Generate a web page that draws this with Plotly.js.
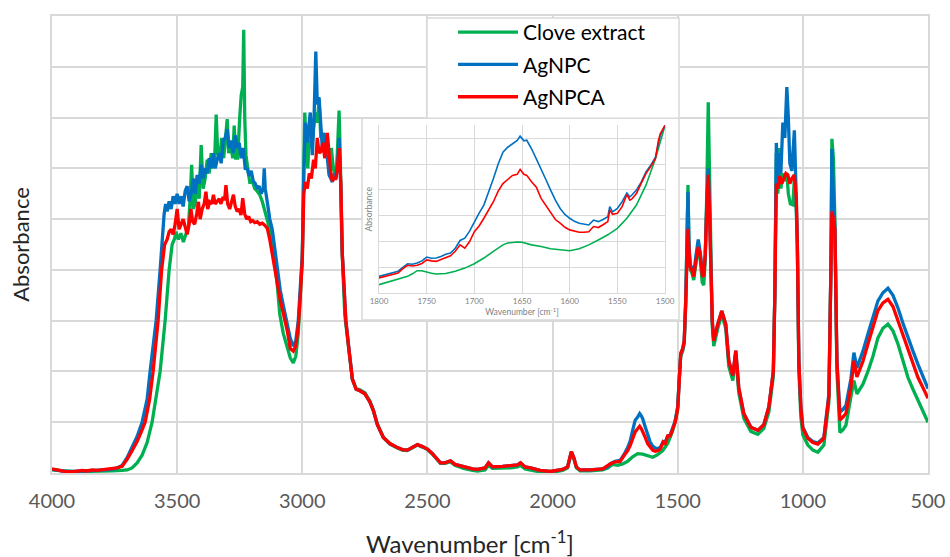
<!DOCTYPE html>
<html>
<head>
<meta charset="utf-8">
<script src="https://cdn.plot.ly/plotly-3.0.1.min.js"></script>
<style>html,body{margin:0;padding:0;background:#fff;}#chart{width:950px;height:557px;}</style>
</head>
<body>
<div id="chart"></div>
<script>
// ---------- series names ----------
const seriesNames = ['Clove extract', 'AgNPC', 'AgNPCA'];

// ---------- main spectrum: Clove extract ----------
const cloveWn = [4000,3960,3920,3880,3840,3800,3760,3720,3700,3680,3660,3640,3620,3600,3580,3568,3548,3532,3520,3510,3505,3495,3485,3475,3465,3455,3448,3442,3436,3428,3420,3412,3404,3396,3388,3380,3372,3364,3356,3350,3344,3338,3330,3322,3314,3306,3300,3294,3286,3278,3272,3266,3258,3250,3244,3238,3234,3230,3225,3218,3210,3200,3190,3180,3170,3160,3150,3140,3130,3120,3110,3100,3090,3076,3060,3048,3036,3026,3016,3008,3000,2994,2990,2984,2978,2970,2962,2955,2948,2940,2933,2926,2918,2910,2900,2890,2884,2876,2866,2860,2853,2848,2842,2830,2813,2800,2785,2770,2750,2730,2716,2700,2676,2650,2620,2600,2580,2560,2540,2520,2500,2480,2460,2448,2430,2408,2390,2356,2320,2300,2270,2256,2240,2200,2168,2140,2128,2110,2088,2050,2008,1960,1940,1925,1915,1905,1890,1850,1800,1780,1760,1740,1720,1700,1680,1660,1640,1620,1600,1580,1560,1540,1520,1510,1500,1494,1488,1480,1474,1468,1463,1459,1455,1450,1444,1436,1428,1418,1410,1402,1396,1390,1384,1378,1374,1368,1362,1356,1340,1324,1308,1296,1280,1268,1256,1236,1208,1180,1156,1136,1118,1112,1106,1100,1094,1088,1080,1072,1064,1058,1050,1040,1034,1028,1022,1016,1008,1000,980,960,940,916,896,888,884,878,872,864,852,840,828,808,796,784,760,740,720,700,680,660,640,620,600,580,560,540,520,500];
const cloveAbs = [0.06,0.04,0.03,0.03,0.03,0.04,0.04,0.05,0.06,0.1,0.2,0.35,0.6,1.0,1.6,2.0,3.0,4.0,4.5,4.62,4.75,4.6,4.72,4.55,4.7,4.85,5.4,6.07,5.2,5.3,5.75,5.4,6.46,5.6,5.8,6.17,5.9,6.3,6.0,6.2,7.06,6.3,6.2,6.6,6.2,6.6,6.97,6.3,6.5,6.2,6.84,6.2,6.2,7.0,7.44,7.6,8.73,7.0,6.26,6.0,5.73,5.75,5.6,5.55,5.48,5.35,5.15,5.0,4.8,4.5,4.17,3.7,3.13,2.75,2.45,2.27,2.17,2.3,2.75,3.4,4.2,6.0,7.1,6.3,6.0,6.9,6.4,6.8,7.1,6.9,7.35,6.6,6.7,6.26,6.3,6.0,6.4,6.0,5.8,6.3,7.14,6.2,4.5,3.1,2.4,1.85,1.66,1.64,1.58,1.42,1.24,0.96,0.7,0.57,0.49,0.45,0.44,0.49,0.55,0.51,0.46,0.37,0.25,0.19,0.19,0.22,0.15,0.09,0.05,0.04,0.06,0.15,0.09,0.09,0.1,0.12,0.15,0.08,0.06,0.02,0.01,0.05,0.1,0.4,0.28,0.1,0.04,0.04,0.06,0.1,0.17,0.15,0.18,0.23,0.32,0.38,0.37,0.34,0.31,0.36,0.44,0.58,0.83,1.04,1.3,1.85,2.3,2.4,2.55,3.3,4.5,5.67,4.4,4.0,3.95,3.8,4.1,4.45,4.2,3.75,3.7,4.2,5.5,7.3,6.2,4.1,2.9,2.5,2.85,3.12,2.85,2.1,1.82,2.3,1.58,1.08,0.82,0.76,0.88,1.2,1.9,3.5,6.3,5.5,6.4,5.6,5.9,5.75,5.9,5.5,5.3,5.28,5.8,5.4,4.5,2.0,1.1,0.75,0.55,0.45,0.41,0.55,1.4,4.0,6.58,6.2,5.0,2.0,0.8,0.85,0.94,1.5,1.82,1.56,1.75,2.0,2.3,2.66,2.85,2.93,2.8,2.54,2.2,1.88,1.65,1.43,1.2,1.0];

// ---------- main spectrum: AgNPC ----------
const agnpcWn = [4000,3950,3900,3850,3800,3760,3740,3720,3700,3680,3660,3640,3620,3608,3584,3568,3556,3552,3546,3540,3532,3524,3516,3508,3500,3492,3484,3476,3468,3460,3452,3444,3436,3428,3420,3412,3404,3396,3388,3380,3372,3364,3356,3348,3340,3332,3324,3316,3308,3300,3292,3284,3276,3268,3260,3252,3244,3236,3228,3220,3212,3204,3196,3188,3180,3172,3164,3156,3152,3148,3140,3130,3120,3110,3100,3088,3076,3060,3048,3036,3026,3016,3008,3000,2994,2988,2981,2975,2968,2960,2953,2946,2940,2933,2926,2920,2913,2906,2900,2893,2886,2880,2873,2866,2860,2853,2846,2840,2826,2813,2800,2785,2770,2750,2730,2716,2700,2676,2650,2620,2600,2580,2560,2540,2520,2500,2480,2460,2448,2430,2408,2390,2356,2320,2300,2270,2256,2240,2200,2168,2140,2128,2110,2088,2050,2008,1960,1940,1925,1915,1905,1890,1850,1800,1780,1770,1750,1730,1715,1700,1690,1680,1670,1660,1652,1645,1640,1630,1620,1610,1600,1590,1580,1570,1558,1550,1540,1530,1520,1510,1500,1494,1488,1480,1474,1468,1463,1459,1455,1450,1444,1436,1428,1418,1410,1402,1396,1390,1384,1378,1374,1368,1362,1356,1340,1324,1308,1296,1280,1268,1256,1236,1208,1180,1156,1136,1118,1112,1106,1100,1094,1088,1080,1072,1064,1058,1052,1044,1034,1028,1022,1016,1008,1000,980,960,940,916,896,888,884,878,872,864,852,840,828,808,796,784,760,740,720,700,680,660,640,620,600,580,560,540,520,500];
const agnpcAbs = [0.07,0.03,0.03,0.04,0.05,0.07,0.1,0.15,0.3,0.5,0.72,1.0,1.45,2.0,3.0,4.0,5.0,5.1,5.3,5.15,5.35,5.2,5.45,5.3,5.5,5.3,5.45,5.25,5.55,5.65,5.35,5.5,5.8,5.5,5.87,5.7,6.07,5.8,6.0,5.9,6.2,6.0,6.3,6.0,6.17,6.3,6.1,6.55,6.6,6.77,6.4,6.55,6.3,6.65,6.4,6.5,6.2,6.4,6.0,5.99,5.85,5.95,5.75,5.7,5.6,5.65,5.5,5.6,6.0,5.6,5.34,5.0,4.8,4.4,4.0,3.6,3.3,2.9,2.65,2.5,2.6,3.0,3.6,4.3,5.9,6.9,6.5,6.8,7.1,6.26,7.0,8.3,7.26,7.4,6.77,6.4,6.7,6.3,6.2,5.87,5.8,5.73,5.9,5.8,6.0,6.6,5.6,4.3,3.0,2.4,1.85,1.65,1.62,1.56,1.4,1.23,0.95,0.7,0.58,0.5,0.46,0.45,0.5,0.56,0.52,0.47,0.38,0.26,0.2,0.2,0.24,0.17,0.12,0.08,0.07,0.1,0.2,0.12,0.13,0.14,0.16,0.2,0.12,0.1,0.05,0.03,0.07,0.12,0.42,0.3,0.12,0.06,0.06,0.08,0.12,0.18,0.23,0.25,0.36,0.5,0.63,0.84,1.04,1.1,1.17,1.12,1.07,0.91,0.75,0.61,0.53,0.49,0.48,0.5,0.62,0.61,0.73,0.75,0.89,1.02,1.3,1.9,2.35,2.45,2.6,3.4,4.5,5.54,4.5,4.1,4.05,3.91,4.25,4.6,4.35,3.95,3.9,4.3,5.3,6.0,5.4,4.17,3.0,2.6,2.93,3.19,2.93,2.21,1.92,2.41,1.68,1.17,0.9,0.84,0.95,1.3,2.0,3.5,6.5,5.8,6.3,5.9,6.9,6.6,7.6,7.0,6.1,5.95,6.75,5.7,4.5,2.2,1.3,0.9,0.7,0.62,0.59,0.7,1.56,4.0,6.38,5.5,4.81,2.2,1.2,1.25,1.33,1.85,2.37,2.07,2.4,2.74,3.05,3.39,3.55,3.64,3.5,3.25,2.95,2.66,2.4,2.14,1.9,1.66];

// ---------- main spectrum: AgNPCA ----------
const agnpcaWn = [4000,3980,3950,3920,3900,3880,3860,3840,3820,3800,3780,3760,3740,3720,3700,3680,3660,3640,3628,3610,3596,3576,3562,3550,3540,3532,3524,3516,3508,3500,3492,3484,3476,3468,3460,3452,3445,3438,3430,3422,3415,3408,3400,3392,3385,3378,3370,3362,3355,3348,3340,3332,3325,3318,3310,3305,3298,3290,3282,3275,3268,3260,3252,3245,3238,3230,3222,3214,3206,3198,3190,3180,3170,3160,3150,3140,3130,3115,3100,3088,3076,3060,3048,3036,3026,3016,3008,3000,2994,2988,2980,2972,2964,2955,2948,2940,2933,2926,2918,2910,2900,2893,2886,2880,2873,2866,2860,2853,2846,2840,2826,2813,2800,2785,2770,2750,2730,2716,2700,2676,2650,2620,2600,2580,2560,2540,2520,2500,2480,2460,2448,2430,2408,2390,2356,2320,2300,2270,2256,2240,2200,2168,2140,2128,2110,2088,2050,2008,1960,1940,1925,1915,1905,1890,1850,1800,1770,1750,1730,1715,1700,1690,1680,1670,1660,1652,1645,1640,1630,1620,1610,1600,1590,1580,1570,1558,1550,1540,1530,1520,1510,1500,1494,1488,1480,1474,1468,1463,1459,1455,1450,1444,1436,1428,1418,1410,1402,1396,1390,1384,1378,1374,1368,1362,1356,1340,1324,1308,1296,1280,1268,1256,1236,1208,1180,1156,1136,1118,1112,1106,1100,1092,1084,1076,1068,1060,1052,1044,1034,1026,1022,1016,1008,1000,980,960,940,916,896,888,884,878,872,864,852,840,828,808,796,784,760,740,720,700,680,660,640,620,600,580,560,540,520,500];
const agnpcaAbs = [0.08,0.06,0.03,0.02,0.03,0.05,0.04,0.06,0.05,0.06,0.07,0.08,0.1,0.13,0.27,0.44,0.62,0.85,1.0,1.45,2.0,3.0,4.0,4.5,4.6,4.75,4.8,4.7,4.9,5.2,4.8,4.9,5.0,4.85,4.7,4.9,5.2,4.95,4.9,5.1,5.34,5.0,5.2,5.3,5.54,5.2,5.34,5.3,5.48,5.3,5.34,5.4,5.3,5.41,5.4,5.67,5.3,5.2,5.35,5.48,5.25,5.15,5.2,5.08,5.41,5.1,5.0,5.05,4.95,4.97,4.93,4.95,4.9,4.92,4.88,4.82,4.6,4.17,3.7,3.4,3.15,2.8,2.45,2.4,2.5,2.9,3.5,4.2,5.5,5.73,5.6,5.9,5.8,6.17,6.0,6.6,6.3,6.33,6.5,6.2,6.7,6.26,5.9,5.75,5.8,5.8,6.0,6.4,5.7,4.3,3.0,2.4,1.85,1.65,1.62,1.56,1.4,1.23,0.95,0.7,0.58,0.5,0.46,0.45,0.5,0.56,0.52,0.47,0.38,0.26,0.2,0.2,0.24,0.17,0.12,0.08,0.07,0.1,0.2,0.12,0.13,0.14,0.16,0.2,0.12,0.1,0.05,0.03,0.07,0.12,0.42,0.3,0.12,0.06,0.06,0.08,0.18,0.22,0.23,0.34,0.44,0.54,0.67,0.81,0.87,0.92,0.87,0.82,0.7,0.58,0.5,0.45,0.43,0.44,0.47,0.61,0.58,0.73,0.73,0.89,1.0,1.26,1.9,2.35,2.45,2.6,3.4,4.3,4.81,4.4,4.05,4.0,3.87,4.15,4.45,4.3,3.9,3.87,4.3,5.2,5.87,5.3,4.17,3.0,2.6,2.93,3.19,2.93,2.21,1.92,2.41,1.68,1.17,0.9,0.84,0.95,1.3,2.0,3.5,5.7,5.6,5.85,5.7,5.8,5.9,5.87,5.7,5.8,5.87,5.4,4.5,2.2,1.28,0.88,0.68,0.6,0.57,0.68,1.5,4.0,5.15,5.0,4.81,2.2,1.04,1.1,1.17,1.69,2.21,1.89,2.2,2.54,2.87,3.2,3.35,3.42,3.28,3.0,2.7,2.41,2.15,1.88,1.68,1.47];

// ---------- inset (1800-1500 cm-1) ----------
const insetCloveWn = [1800,1790,1780,1770,1765,1760,1755,1750,1745,1740,1735,1730,1720,1710,1700,1690,1680,1670,1665,1660,1655,1650,1645,1640,1630,1620,1610,1600,1590,1580,1570,1560,1550,1540,1530,1520,1510,1505,1500];
const insetCloveAbs = [0.33,0.43,0.53,0.65,0.75,0.87,0.87,0.81,0.77,0.74,0.74,0.76,0.85,0.97,1.14,1.36,1.62,1.87,1.94,1.97,1.98,1.97,1.92,1.87,1.81,1.72,1.68,1.64,1.72,1.87,2.06,2.26,2.51,2.9,3.41,4.18,5.21,5.85,6.49];
const insetAgnpcWn = [1800,1795,1790,1785,1780,1775,1770,1765,1760,1755,1750,1745,1740,1735,1730,1725,1720,1715,1710,1705,1700,1695,1690,1685,1680,1675,1670,1665,1660,1655,1652,1648,1645,1640,1635,1630,1625,1620,1615,1610,1605,1600,1595,1590,1585,1580,1575,1570,1565,1560,1558,1555,1550,1545,1540,1537,1535,1530,1525,1520,1515,1510,1505,1500];
const insetAgnpcAbs = [0.65,0.7,0.74,0.8,0.85,1.0,1.14,1.12,1.17,1.25,1.4,1.35,1.36,1.42,1.51,1.55,1.74,2.04,2.13,2.4,2.77,3.1,3.41,3.9,4.44,5.0,5.46,5.65,5.78,5.91,6.08,5.9,5.92,5.59,5.2,4.82,4.4,3.99,3.6,3.28,3.05,2.9,2.78,2.71,2.66,2.64,2.83,2.77,2.85,2.96,3.35,3.15,3.28,3.54,3.88,3.72,3.79,3.99,4.3,4.69,4.95,5.27,6.1,6.5];
const insetAgnpcaWn = [1800,1795,1790,1785,1780,1775,1770,1765,1760,1755,1750,1745,1740,1735,1730,1725,1720,1715,1710,1705,1700,1695,1690,1685,1680,1675,1670,1665,1660,1655,1652,1648,1645,1640,1635,1630,1625,1620,1615,1610,1605,1600,1595,1590,1585,1580,1575,1570,1565,1560,1558,1555,1550,1545,1540,1537,1535,1530,1525,1520,1515,1510,1507,1505,1500];
const insetAgnpcaAbs = [0.59,0.64,0.69,0.72,0.78,0.95,1.08,1.05,1.08,1.15,1.29,1.25,1.23,1.3,1.36,1.45,1.62,1.87,1.74,2.0,2.38,2.6,2.9,3.2,3.54,3.95,4.24,4.4,4.56,4.6,4.79,4.6,4.56,4.31,4.1,3.67,3.4,3.09,2.85,2.71,2.55,2.45,2.4,2.36,2.36,2.38,2.58,2.54,2.65,2.77,3.22,3.05,3.09,3.35,3.82,3.6,3.64,3.86,4.25,4.63,4.9,5.21,5.9,6.17,6.5];

// ---------- axis ticks ----------
const mainTickVals = [4000,3500,3000,2500,2000,1500,1000,500];
const insetTickVals = [1800,1750,1700,1650,1600,1550,1500];

const colors = ['#00b050', '#0070c0', '#ff0000'];
const mainX = [cloveWn, agnpcWn, agnpcaWn];
const mainY = [cloveAbs, agnpcAbs, agnpcaAbs];
const insX = [insetCloveWn, insetAgnpcWn, insetAgnpcaWn];
const insY = [insetCloveAbs, insetAgnpcAbs, insetAgnpcaAbs];

const traces = [];
for (let i = 0; i < 3; i++) {
  traces.push({type:'scatter', mode:'lines', x:mainX[i], y:mainY[i], name:seriesNames[i],
    legendgroup:'g' + i, line:{color:colors[i], width:3.3}, xaxis:'x', yaxis:'y', hoverinfo:'skip'});
}
// white backdrop panel for the inset
traces.push({type:'scatter', mode:'lines', x:[], y:[], xaxis:'x2', yaxis:'y2', showlegend:false, hoverinfo:'skip'});
for (let i = 0; i < 3; i++) {
  traces.push({type:'scatter', mode:'lines', x:insX[i], y:insY[i], name:seriesNames[i], showlegend:false,
    line:{color:colors[i], width:1.6}, xaxis:'x3', yaxis:'y3', hoverinfo:'skip'});
}

const grid = '#d9d9d9';
const layout = {
  width:950, height:557,
  margin:{l:52, r:22, t:13, b:84, pad:0},
  paper_bgcolor:'#ffffff', plot_bgcolor:'#ffffff',
  font:{family:'Lato, "Open Sans", sans-serif', color:'#595959'},
  showlegend:true,
  legend:{x:0.4578, y:1.0087, xanchor:'left', yanchor:'top', bgcolor:'rgba(255,255,255,0)', borderwidth:0,
    font:{size:21, color:'#000000'}, itemwidth:60, tracegroupgap:2, traceorder:'grouped'},
  xaxis:{domain:[0,1], anchor:'y', range:[4000,500], tickmode:'array', tickvals:mainTickVals,
    showgrid:true, gridcolor:grid, gridwidth:2, zeroline:false, showline:true, mirror:true, linecolor:grid, linewidth:2,
    ticks:'outside', ticklen:9, tickcolor:'rgba(0,0,0,0)', tickfont:{size:20, color:'#595959'}},
  yaxis:{domain:[0,1], anchor:'x', range:[0,9], dtick:1, tick0:0,
    showgrid:true, gridcolor:grid, gridwidth:2, zeroline:false, showline:true, mirror:true, linecolor:grid, linewidth:2,
    showticklabels:false, ticks:'',
    title:{text:'Absorbance', font:{size:22, color:'#262626'}, standoff:14}},
  xaxis2:{domain:[0.3539,0.7158], anchor:'y2', range:[0,1], visible:false, fixedrange:true},
  yaxis2:{domain:[0.3348,0.7761], anchor:'x2', range:[0,1], visible:false, fixedrange:true},
  xaxis3:{domain:[0.3733,0.6998], anchor:'y3', range:[1800,1500], tickmode:'array', tickvals:insetTickVals,
    showgrid:true, gridcolor:grid, gridwidth:1, zeroline:false, showline:true, linecolor:grid, linewidth:1,
    ticks:'', tickfont:{size:8, color:'#7f7f7f'},
    title:{text:'Wavenumber [cm<sup>-1</sup>]', font:{size:8.5, color:'#7f7f7f'}, standoff:1}},
  yaxis3:{domain:[0.3935,0.7609], anchor:'x3', range:[0,6.5], dtick:1, tick0:0,
    showgrid:true, gridcolor:grid, gridwidth:1, zeroline:false, showline:true, mirror:true, linecolor:grid, linewidth:1,
    showticklabels:false, ticks:'',
    title:{text:'Absorbance', font:{size:8.5, color:'#7f7f7f'}, standoff:4}},
  annotations:[
    {xref:'paper', yref:'paper', x:0.477, y:-0.15, xanchor:'center', yanchor:'middle', showarrow:false,
      text:'Wavenumber [cm<sup>-1</sup>]', font:{size:24, color:'#262626'}}
  ],
  shapes:[
    {type:'rect', xref:'paper', yref:'paper', x0:0.3539, x1:0.7158, y0:0.3348, y1:0.7761,
      line:{color:grid, width:1.5}, fillcolor:'rgba(0,0,0,0)', layer:'above'},
    {type:'rect', xref:'paper', yref:'paper', x0:0.4281, x1:0.7158, y0:0.7761, y1:0.9957,
      line:{color:grid, width:1.5}, fillcolor:'#ffffff', layer:'above'}
  ]
};

Plotly.newPlot('chart', traces, layout, {staticPlot:true, displayModeBar:false});
</script>
</body>
</html>
